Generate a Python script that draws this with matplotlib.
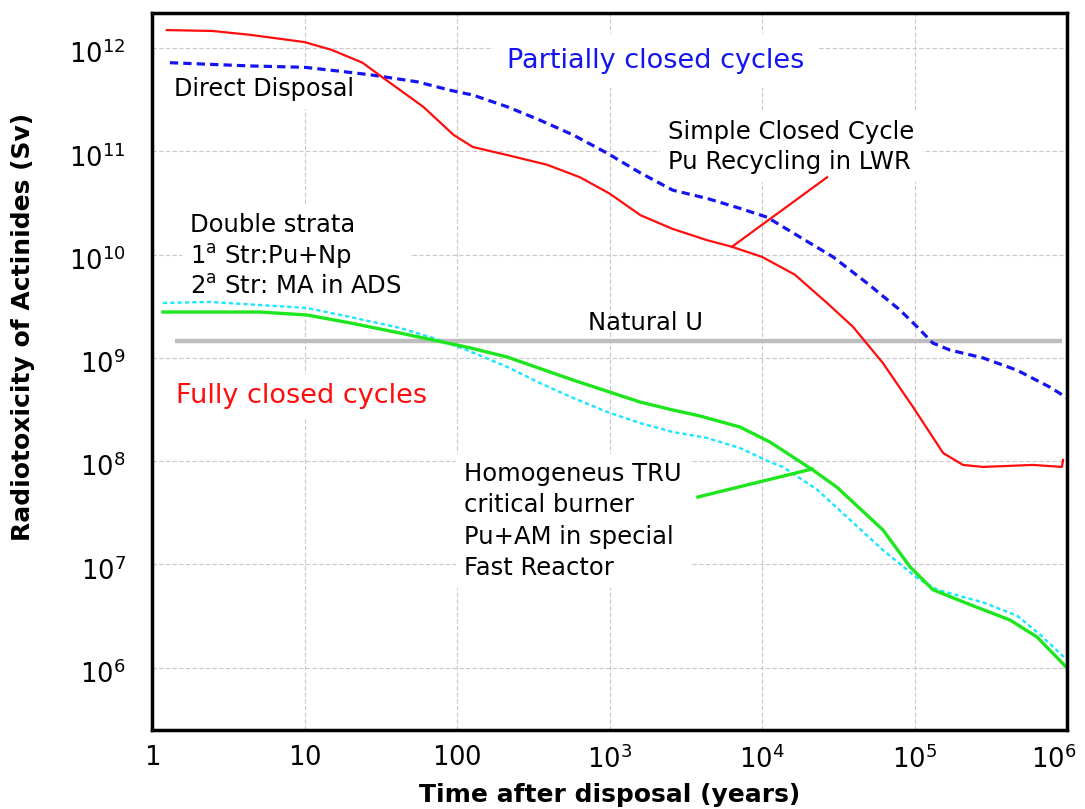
import matplotlib
matplotlib.use('Agg')
import matplotlib.pyplot as plt
from matplotlib.ticker import FixedLocator, FixedFormatter, NullLocator
from matplotlib.transforms import ScaledTranslation

# values: time (years) vs radiotoxicity (Sv)
simple_t = [1.25, 2.5, 4.4, 10, 15, 24, 33, 60, 95, 127, 213, 390, 640, 1000, 1600,
            2600, 4350, 6350, 10000, 16400, 26700, 39500, 62100, 97700, 154000,
            208000, 281000, 598000, 927000, 942000]
simple_sv = [1.49e12, 1.46e12, 1.34e12, 1.14e12, 9.6e11, 7.2e11, 5.1e11, 2.7e11, 1.44e11,
             1.10e11, 9.2e10, 7.4e10, 5.6e10, 3.9e10, 2.4e10, 1.77e10, 1.38e10, 1.19e10,
             9.5e9, 6.4e9, 3.4e9, 2.0e9, 8.9e8, 3.35e8, 1.2e8, 9.2e7, 8.8e7, 9.2e7,
             8.8e7, 1.03e8]

direct_t = [1.31, 4.4, 10, 16.3, 27, 55, 90, 127, 213, 350, 577, 964, 1585, 2600, 4350,
            7180, 10800, 17700, 29200, 48800, 80400, 104000, 132000, 171000, 281000,
            470000, 774000, 1e6]
direct_sv = [7.2e11, 6.7e11, 6.5e11, 6.0e11, 5.5e11, 4.7e11, 3.9e11, 3.5e11, 2.7e11,
             2.0e11, 1.44e11, 9.6e10, 6.2e10, 4.2e10, 3.5e10, 2.8e10, 2.3e10, 1.48e10,
             9.5e9, 5.3e9, 2.9e9, 2.0e9, 1.39e9, 1.19e9, 1.0e9, 7.6e8, 5.2e8, 4.1e8]

tru_t = [1.18, 5.1, 10.4, 19.9, 42.3, 69.6, 122, 213, 577, 1585, 2600, 3920, 7180, 11300,
         21600, 31000, 62100, 93400, 132000, 221000, 423000, 635000, 1e6]
tru_sv = [2.78e9, 2.78e9, 2.6e9, 2.18e9, 1.74e9, 1.49e9, 1.25e9, 1.02e9, 6.1e8, 3.74e8,
          3.13e8, 2.74e8, 2.14e8, 1.53e8, 8.2e7, 5.6e7, 2.16e7, 9.5e6, 5.7e6, 4.2e6,
          2.9e6, 1.99e6, 1.0e6]

ads_t = [1.18, 2.4, 5.1, 10.4, 19.9, 42.3, 69.6, 116, 213, 350, 577, 964, 1585, 2600,
         4350, 7180, 11300, 13700, 23000, 37800, 62100, 104000, 141000, 281000, 470000,
         665000, 1e6]
ads_sv = [3.4e9, 3.48e9, 3.25e9, 3.04e9, 2.49e9, 1.95e9, 1.56e9, 1.19e9, 8.2e8, 5.7e8,
          4.1e8, 3.0e8, 2.34e8, 1.92e8, 1.68e8, 1.34e8, 9.8e7, 8.8e7, 5.3e7, 2.7e7,
          1.38e7, 7.4e6, 5.7e6, 4.3e6, 3.2e6, 2.1e6, 1.19e6]

natural_u_t = [1.42, 9.3e5]
natural_u_sv = [1.45e9, 1.45e9]

# leader lines for the two labels
simple_ptr_t = [6350, 26700]
simple_ptr_sv = [1.19e10, 5.6e10]
tru_ptr_t = [3800, 21300]
tru_ptr_sv = [4.5e7, 8.4e7]

x_ticks = [1, 10, 100, 1e3, 1e4, 1e5, 1e6]
x_labels = ['$1$', '$10$', '$100$', '$10^{3}$', '$10^{4}$', '$10^{5}$', '$10^{6}$']
y_ticks = [1e6, 1e7, 1e8, 1e9, 1e10, 1e11, 1e12]
y_labels = ['$10^{6}$', '$10^{7}$', '$10^{8}$', '$10^{9}$', '$10^{10}$', '$10^{11}$', '$10^{12}$']

plt.rcParams['font.family'] = ['DejaVu Sans']
plt.rcParams['mathtext.fontset'] = 'dejavusans'

fig = plt.figure(figsize=(10.85, 8.09), dpi=100)
ax = fig.add_axes([152 / 1085, 1 - 730 / 809, 915 / 1085, 717 / 809])
ax.set_xscale('log')
ax.set_yscale('log')
ax.set_xlim(1, 1e6)
ax.set_ylim(2.5e5, 2.18e12)

ax.plot(natural_u_t, natural_u_sv, color='#bdbdbd', lw=3.2, zorder=3, solid_capstyle='butt')
ax.plot(direct_t, direct_sv, color='#1414f0', lw=2.3, dashes=(2.6, 1.6), zorder=4)
ax.plot(simple_t, simple_sv, color='#ff0d0d', lw=1.6, zorder=5)
ax.plot(ads_t, ads_sv, color='#19e6ff', lw=1.7, dashes=(1.8, 1.3), zorder=4)
ax.plot(tru_t, tru_sv, color='#1ee61e', lw=2.4, zorder=5)
ax.plot(simple_ptr_t, simple_ptr_sv, color='#ff0d0d', lw=1.6, zorder=5)
ax.plot(tru_ptr_t, tru_ptr_sv, color='#1ee61e', lw=2.4, zorder=5)

box = dict(facecolor='white', edgecolor='none', pad=6)
ax.text(1.39, 4.0e11, 'Direct Disposal', fontsize=17.2, va='center', ha='left', zorder=2, bbox=box)
ax.text(213, 7.5e11, 'Partially closed cycles', fontsize=19.5, color='#1414f0',
        va='center', ha='left', zorder=2, bbox=dict(facecolor='white', edgecolor='none', pad=10))
ax.text(2420, 1.1e11, 'Simple Closed Cycle\nPu Recycling in LWR', fontsize=17.5,
        va='center', ha='left', linespacing=1.32, zorder=2, bbox=box)
ax.text(1.78, 9.7e9, 'Double strata\n1$^{\\mathrm{a}}$ Str:Pu+Np\n2$^{\\mathrm{a}}$ Str: MA in ADS',
        fontsize=17.5, va='center', ha='left', linespacing=1.2, zorder=2, bbox=box)
ax.text(1730, 2.2e9, 'Natural U', fontsize=17.5, va='center', ha='center', zorder=2)
ax.text(1.44, 4.3e8, 'Fully closed cycles', fontsize=19.5, color='#ff0d0d',
        va='center', ha='left', zorder=2, bbox=box)
ax.text(111, 2.64e7, 'Homogeneus TRU\ncritical burner\nPu+AM in special\nFast Reactor',
        fontsize=17.5, va='center', ha='left', linespacing=1.38, zorder=2, bbox=box)

ax.xaxis.set_major_locator(FixedLocator(x_ticks))
ax.xaxis.set_major_formatter(FixedFormatter(x_labels))
ax.yaxis.set_major_locator(FixedLocator(y_ticks))
ax.yaxis.set_major_formatter(FixedFormatter(y_labels))
ax.xaxis.set_minor_locator(NullLocator())
ax.yaxis.set_minor_locator(NullLocator())
ax.tick_params(axis='both', length=0, labelsize=18.5)
ax.tick_params(axis='x', pad=11)
ax.tick_params(axis='y', pad=19)

ax.grid(True, color='#c8c8c8', linestyle=(0, (4, 2)), linewidth=0.8)
ax.set_axisbelow(True)
for side in ax.spines.values():
    side.set_linewidth(2.5)
    side.set_zorder(6)

# nudge tick labels like the original: y labels a bit lower, last x label inwards
down = ScaledTranslation(0, -4 / 100, fig.dpi_scale_trans)
for tick in ax.yaxis.get_major_ticks():
    tick.label1.set_transform(tick.label1.get_transform() + down)
last = ax.xaxis.get_major_ticks()[-1]
last.label1.set_transform(last.label1.get_transform() + ScaledTranslation(-13 / 100, 0, fig.dpi_scale_trans))

ax.set_xlabel('Time after disposal (years)', fontsize=18, fontweight='bold')
ax.set_ylabel('Radiotoxicity of Actinides (Sv)', fontsize=18, fontweight='bold')
ax.xaxis.set_label_coords(0.5, -0.074)
ax.yaxis.set_label_coords(-0.128, 0.562)

fig.savefig('out.png', dpi=100)
